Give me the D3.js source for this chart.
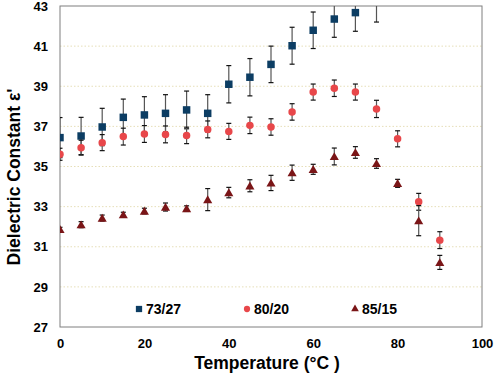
<!DOCTYPE html>
<html>
<head>
<meta charset="utf-8">
<script src="https://cdn.jsdelivr.net/npm/d3@7"></script>
<style>
  body { margin: 0; background: #fff; }
  text { font-family: "Liberation Sans", Arial, sans-serif; font-weight: bold; }
</style>
</head>
<body>
<svg id="chart" width="498" height="382"></svg>
<script>
// temperatures (°C)
const temps = [0, 5, 10, 15, 20, 25, 30, 35, 40, 45, 50, 55, 60, 65, 70, 75, 80, 85, 90];

// 73/27 (values above 43 are cut off by the axis)
const s7327 = [36.44, 36.52, 36.97, 37.45, 37.57, 37.65, 37.82, 37.65, 39.1, 39.45, 40.09, 41.02, 41.79, 42.35, 42.67, 43.13];
const e7327 = [1.0, 0.93, 0.93, 0.91, 0.91, 0.93, 0.94, 0.93, 0.93, 0.93, 0.91, 0.92, 0.91, 0.91, 0.93, 0.93];

// 80/20
const s8020 = [35.61, 35.94, 36.19, 36.49, 36.62, 36.6, 36.55, 36.85, 36.75, 37.05, 36.97, 37.72, 38.71, 38.9, 38.71, 37.87, 36.38, 33.24, 31.33];
const e8020 = [0.3, 0.37, 0.4, 0.42, 0.42, 0.42, 0.41, 0.42, 0.4, 0.41, 0.41, 0.41, 0.4, 0.41, 0.4, 0.43, 0.4, 0.42, 0.42];

// 85/15
const s8515 = [31.87, 32.1, 32.43, 32.6, 32.78, 32.98, 32.9, 33.35, 33.7, 34.04, 34.18, 34.69, 34.86, 35.5, 35.7, 35.15, 34.16, 32.3, 30.22];
const e8515 = [0.1, 0.15, 0.15, 0.12, 0.14, 0.2, 0.14, 0.55, 0.26, 0.3, 0.38, 0.38, 0.25, 0.42, 0.29, 0.24, 0.2, 0.75, 0.35];

const xTicks = [0, 20, 40, 60, 80, 100];
const yTicks = [27, 29, 31, 33, 35, 37, 39, 41, 43];

const series = [
  { name: "73/27", values: s7327, errors: e7327, color: "#0c3d63", shape: "square", legendX: 139 },
  { name: "80/20", values: s8020, errors: e8020, color: "#e8474a", shape: "circle", legendX: 247 },
  { name: "85/15", values: s8515, errors: e8515, color: "#7a1517", shape: "triangle", legendX: 355 }
];

const margin = { top: 6, right: 16, bottom: 55, left: 60 };
const width = 498 - margin.left - margin.right;
const height = 382 - margin.top - margin.bottom;

const svg = d3.select("#chart");
const g = svg.append("g").attr("transform", `translate(${margin.left},${margin.top})`);

const x = d3.scaleLinear().domain([0, 100]).range([0, width]);
const y = d3.scaleLinear().domain([27, 43]).range([height, 0]);

svg.append("defs").append("clipPath").attr("id", "plot-clip")
  .append("rect").attr("width", width).attr("height", height);

// dotted gridlines
g.append("g")
  .selectAll("line")
  .data(yTicks.filter(t => t > 27 && t < 43))
  .join("line")
  .attr("x1", 0).attr("x2", width)
  .attr("y1", d => y(d)).attr("y2", d => y(d))
  .attr("stroke", "#e6dfb8")
  .attr("stroke-width", 1)
  .attr("stroke-dasharray", "1.5,2");

// frame
g.append("rect")
  .attr("width", width).attr("height", height)
  .attr("fill", "none").attr("stroke", "#7f7f7f").attr("stroke-width", 1);

// axes (labels only)
const xAxis = g.append("g")
  .attr("transform", `translate(0,${height})`)
  .call(d3.axisBottom(x).tickValues(xTicks).tickSize(0).tickPadding(12));
xAxis.select(".domain").remove();
xAxis.selectAll("text").attr("font-size", 13).attr("fill", "#000");

const yAxis = g.append("g")
  .call(d3.axisLeft(y).tickValues(yTicks).tickSize(0).tickPadding(12));
yAxis.select(".domain").remove();
yAxis.selectAll("text").attr("font-size", 13).attr("fill", "#000");

// axis titles
svg.append("text")
  .attr("x", margin.left + width / 2 - 4)
  .attr("y", 369)
  .attr("text-anchor", "middle")
  .attr("font-size", 17.5)
  .text("Temperature (°C )");

svg.append("text")
  .attr("transform", `translate(20,${177}) rotate(-90)`)
  .attr("text-anchor", "middle")
  .attr("font-size", 17.5)
  .text("Dielectric Constant ε'");

const plot = g.append("g").attr("clip-path", "url(#plot-clip)");

const symbolFor = shape => shape === "square" ? d3.symbolSquare
  : shape === "circle" ? d3.symbolCircle : d3.symbolTriangle;
const sizeFor = shape => shape === "square" ? 56 : shape === "circle" ? 44 : 36;

series.forEach(s => {
  const pts = s.values.map((v, i) => ({ t: temps[i], v: v, e: s.errors[i] }));

  // error bars
  const eb = plot.append("g");
  eb.selectAll("line.bar").data(pts).join("line")
    .attr("x1", d => x(d.t)).attr("x2", d => x(d.t))
    .attr("y1", d => y(d.v - d.e)).attr("y2", d => y(d.v + d.e))
    .attr("stroke", "#555").attr("stroke-width", 1.2);
  [-1, 1].forEach(sign => {
    eb.selectAll(null).data(pts).join("line")
      .attr("x1", d => x(d.t) - 2.5).attr("x2", d => x(d.t) + 2.5)
      .attr("y1", d => y(d.v + sign * d.e)).attr("y2", d => y(d.v + sign * d.e))
      .attr("stroke", "#111").attr("stroke-width", 1.2);
  });

  // markers (not drawn when outside the axis range)
  plot.append("g").selectAll("path").data(pts.filter(d => d.v <= 43)).join("path")
    .attr("transform", d => `translate(${x(d.t)},${y(d.v) + (s.shape === "triangle" ? 1 : 0)})`)
    .attr("d", d3.symbol().type(symbolFor(s.shape)).size(sizeFor(s.shape)))
    .attr("fill", s.color);

  // legend
  const lg = svg.append("g").attr("transform", `translate(${s.legendX},309)`);
  lg.append("path")
    .attr("d", d3.symbol().type(symbolFor(s.shape)).size(sizeFor(s.shape) * 0.7))
    .attr("fill", s.color);
  lg.append("text")
    .attr("x", 7).attr("y", 5)
    .attr("font-size", 14)
    .text(s.name);
});
</script>
</body>
</html>
